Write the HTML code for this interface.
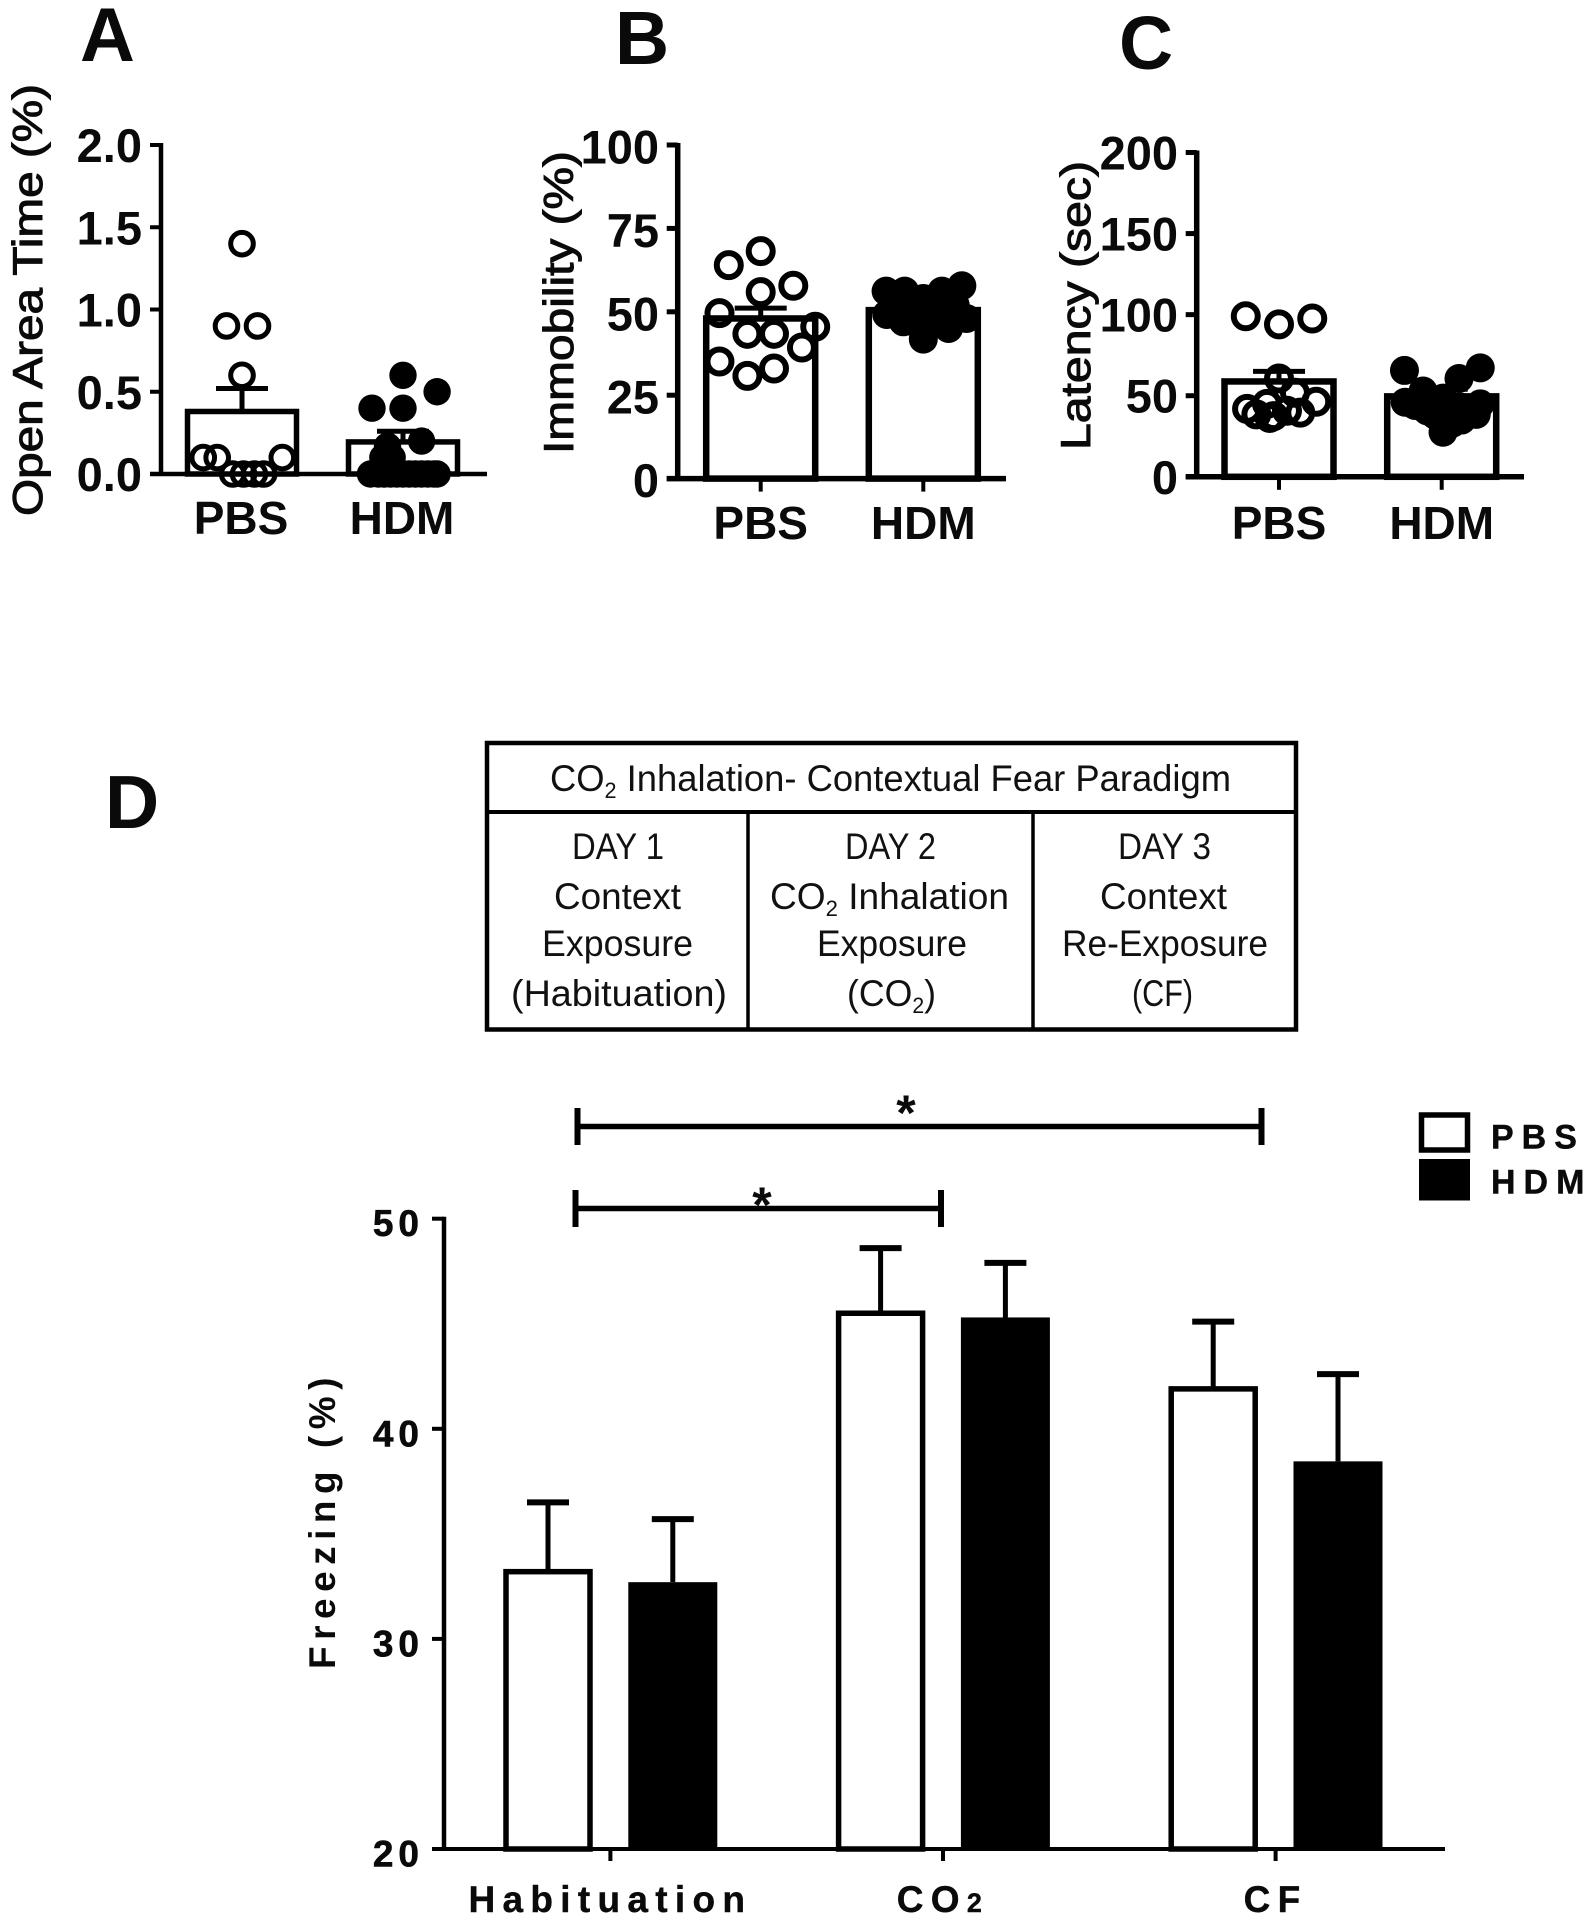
<!DOCTYPE html>
<html lang="en">
<head>
<meta charset="utf-8">
<title>Behavioral measures and CO2 contextual fear paradigm</title>
<style>
html,body{margin:0;padding:0;background:#fff;}
svg{display:block;}
text{font-family:"Liberation Sans",Arial,sans-serif;fill:#0a0a0a;}
.tt{font-size:37px;fill:#111;}
.sub{font-size:22px;}
</style>
</head>
<body>
<svg id="figure" xmlns="http://www.w3.org/2000/svg" width="1587" height="1920" viewBox="0 0 1587 1920">
<rect x="0" y="0" width="1587" height="1920" fill="#fff"/>
<g id="paradigm-table" fill="none" stroke="#000">
  <rect x="487" y="743" width="809" height="286.5" stroke-width="4.5"/>
  <line x1="487" y1="812" x2="1296" y2="812" stroke-width="4"/>
  <line x1="748" y1="812" x2="748" y2="1029" stroke-width="3.5"/>
  <line x1="1033" y1="812" x2="1033" y2="1029" stroke-width="3.5"/>
</g>
<g>
  <text class="tt" x="550" y="791" textLength="681" lengthAdjust="spacingAndGlyphs">CO<tspan class="sub" dy="7">2</tspan><tspan dy="-7"> Inhalation- Contextual Fear Paradigm</tspan></text>
  <text class="tt" x="572" y="859" textLength="92" lengthAdjust="spacingAndGlyphs">DAY 1</text>
  <text class="tt" x="554" y="909" textLength="127" lengthAdjust="spacingAndGlyphs">Context</text>
  <text class="tt" x="542" y="956" textLength="151" lengthAdjust="spacingAndGlyphs">Exposure</text>
  <text class="tt" x="511" y="1006" textLength="216" lengthAdjust="spacingAndGlyphs">(Habituation)</text>
  <text class="tt" x="845" y="859" textLength="91" lengthAdjust="spacingAndGlyphs">DAY 2</text>
  <text class="tt" x="770" y="909" textLength="239" lengthAdjust="spacingAndGlyphs">CO<tspan class="sub" dy="7">2</tspan><tspan dy="-7"> Inhalation</tspan></text>
  <text class="tt" x="817" y="956" textLength="150" lengthAdjust="spacingAndGlyphs">Exposure</text>
  <text class="tt" x="847" y="1006" textLength="89" lengthAdjust="spacingAndGlyphs">(CO<tspan class="sub" dy="7">2</tspan><tspan dy="-7">)</tspan></text>
  <text class="tt" x="1118" y="859" textLength="93" lengthAdjust="spacingAndGlyphs">DAY 3</text>
  <text class="tt" x="1100" y="909" textLength="127" lengthAdjust="spacingAndGlyphs">Context</text>
  <text class="tt" x="1062" y="956" textLength="206" lengthAdjust="spacingAndGlyphs">Re-Exposure</text>
  <text class="tt" x="1132" y="1006" textLength="61" lengthAdjust="spacingAndGlyphs">(CF)</text>
</g>
<g>
  <text x="80" y="61" font-weight="700" font-size="76">A</text>
  <text x="615" y="64" font-weight="700" font-size="75">B</text>
  <text x="1119" y="69" font-weight="700" font-size="75">C</text>
  <text x="105" y="828" font-weight="700" font-size="75">D</text>
</g>
<g id="plots"></g>
</svg>
<script>
// Panel A: open area time
const panelACategories = ['PBS', 'HDM'];
const panelAMeans = [0.38, 0.195];
const panelAErrorTops = [0.52, 0.26];
const panelATicks = [0, 0.5, 1, 1.5, 2];
const panelATickLabels = ['0.0', '0.5', '1.0', '1.5', '2.0'];
const panelAPbsValues = [1.4, 0.9, 0.9, 0.6, 0.1, 0.1, 0.1, 0, 0, 0, 0];
const panelAPbsSlots = [0, -1, 1, 0, -2.5, -1.6, 2.6, -0.6, 0.1, 0.8, 1.4];
const panelAHdmValues = [0.6, 0.5, 0.4, 0.4, 0.2, 0.17, 0.1, 0.1, 0, 0, 0, 0, 0, 0, 0, 0, 0, 0, 0, 0];
const panelAHdmSlots = [0, 2.2, -2, 0, 1.2, -1, -1.3, -0.7, -2.1, -1.6, -1.2, -0.8, -0.4, 0, 0.4, 0.8, 1.2, 1.6, 2, 2.2];

// Panel B: immobility
const panelBCategories = ['PBS', 'HDM'];
const panelBMeans = [48, 50.5];
const panelBErrorTops = [51.1, 52.5];
const panelBTicks = [0, 25, 50, 75, 100];
const panelBTickLabels = ['0', '25', '50', '75', '100'];
const panelBPbsValues = [68.2, 64, 57.8, 55.9, 49.6, 45.5, 43.4, 43.4, 39.3, 35.1, 33, 30.8];
const panelBPbsSlots = [0, -2.4, 2.45, 0, -3.1, 4.1, -1, 1, 3.1, -3.1, 1, -1];
const panelBHdmValues = [56.2, 56.2, 54, 56.2, 57.8, 49.2, 47, 41.8, 45, 48, 47, 50, 51, 53, 52, 51, 52, 47];
const panelBHdmSlots = [-2.8, -1.4, 0, 1.4, 2.9, -2.75, -1.5, 0, 1.9, 3.25, 0.9, 1.5, -1, -2, -0.5, 0.6, 2.4, -0.7];

// Panel C: latency
const panelCCategories = ['PBS', 'HDM'];
const panelCMeans = [58.8, 49.6];
const panelCErrorTops = [65, 54];
const panelCTicks = [0, 50, 100, 150, 200];
const panelCTickLabels = ['0', '50', '100', '150', '200'];
const panelCPbsValues = [99, 94, 97.6, 60.6, 51.8, 41.9, 45, 46.3, 38.5, 37.4, 40.7, 39.6, 36.3];
const panelCPbsSlots = [-2.5, 0, 2.5, 0, 1.2, -2.4, -0.9, 2.8, -1.7, -0.4, 0.6, 1.6, -0.7];
const panelCHdmValues = [65.6, 67.2, 60.6, 52.9, 46, 48.5, 45, 35, 27.5, 40.7, 38.5, 43, 44, 44, 40, 42, 33, 37, 38];
const panelCHdmSlots = [-2.8, 2.9, 1.3, -1.4, -2.75, 0.1, 2.9, 1.5, 0.1, -1.1, 2.6, 1.4, -2, -0.5, 0.6, 2, 0.8, 1, -0.5];

// Panel D: freezing
const panelDCategories = ['Habituation', 'CO2', 'CF'];
const panelDPbsMeans = [33.2, 45.5, 41.9];
const panelDPbsErrorTops = [36.5, 48.6, 45.1];
const panelDHdmMeans = [32.7, 45.3, 38.45];
const panelDHdmErrorTops = [35.7, 47.9, 42.6];
const panelDTicks = [20, 30, 40, 50];
const panelDTickLabels = ['20', '30', '40', '50'];
const panelDLegend = ['PBS', 'HDM'];

const SVGNS = 'http://www.w3.org/2000/svg';
const plots = document.getElementById('plots');

function make(parent, tag, attrs, content) {
  const el = document.createElementNS(SVGNS, tag);
  for (const k in attrs) el.setAttribute(k, attrs[k]);
  if (content !== undefined) el.textContent = content;
  parent.appendChild(el);
  return el;
}
function linearScale(d0, d1, p0, p1) {
  return function (v) { return p0 + (v - d0) * (p1 - p0) / (d1 - d0); };
}

function drawDotPanel(c) {
  const g = make(plots, 'g', {});
  
  
  const y = linearScale(c.domain[0], c.domain[1], c.bottom, c.top);
  const x = function (i) { return c.firstX + i * c.bandStep; };

  const yAxis = make(g, 'line', { x1: c.axisX, x2: c.axisX, y1: y(c.domain[1]) - 2, y2: c.bottom, stroke: '#000', 'stroke-width': c.axisWidth });
  
  
  const xAxis = make(g, 'line', { x1: c.axisX - 11, x2: c.xEnd, y1: c.bottom, y2: c.bottom, stroke: '#000', 'stroke-width': c.axisWidth });
  
  

  c.ticks.forEach(function (t, i) {
    const tick = make(g, 'line', { x1: c.axisX - 11, x2: c.axisX, y1: y(t), y2: y(t), stroke: '#000', 'stroke-width': c.axisWidth - 0.5 });
    
    
    const lab = make(g, 'text', { x: c.tickRight, y: y(t) + c.tickDy, 'text-anchor': 'end', 'font-size': 47, 'font-weight': 700 }, c.tickLabels[i]);
    
    
  });

  c.categories.forEach(function (cat, i) {
    const cx = x(i);
    const bar = make(g, 'rect', { x: cx - c.barHalf, y: y(c.means[i]), width: c.barHalf * 2, height: c.bottom - y(c.means[i]), fill: 'none', stroke: '#000', 'stroke-width': c.barStroke });
    
    
    const stem = make(g, 'line', { x1: cx, x2: cx, y1: y(c.means[i]), y2: y(c.errorTops[i]), stroke: '#000', 'stroke-width': 5 });
    
    
    const cap = make(g, 'line', { x1: cx - 26, x2: cx + 26, y1: y(c.errorTops[i]), y2: y(c.errorTops[i]), stroke: '#000', 'stroke-width': 5 });
    
    
    if (c.xTicks) {
      const xt = make(g, 'line', { x1: cx, x2: cx, y1: c.bottom, y2: c.bottom + 13, stroke: '#000', 'stroke-width': 4 });
      
      
    }
    const lab = make(g, 'text', { x: cx + c.labelDx, y: c.labelY, 'text-anchor': 'middle', 'font-size': 46, 'font-weight': 700 }, cat);
    
    
  });

  c.pbsValues.forEach(function (v, i) {
    const pt = make(g, 'circle', { cx: x(0) + c.pbsSlots[i] * c.slotStep, cy: y(v), r: c.openR, fill: 'none', stroke: '#000', 'stroke-width': c.openStroke });
    
    
  });
  c.hdmValues.forEach(function (v, i) {
    const pt = make(g, 'circle', { cx: x(1) + c.hdmSlots[i] * c.slotStep, cy: y(v), r: c.filledR, fill: '#000' });
    
    
  });

  const title = make(g, 'text', { transform: 'translate(' + c.titleX + ',' + c.titleStart + ') rotate(-90)', 'font-size': 42, 'font-weight': 400, textLength: c.titleLen, lengthAdjust: 'spacingAndGlyphs', stroke: '#0a0a0a', 'stroke-width': 1 }, c.title);
  
  
}

drawDotPanel({
  name: 'panel-a', title: 'Open Area Time (%)', titleX: 42, titleStart: 516, titleLen: 432,
  domain: [0, 2], bottom: 474, top: 145, axisX: 161, xEnd: 487, tickRight: 142, tickDy: 17,
  firstX: 242, bandStep: 161, barHalf: 54.5, slotStep: 15.5, labelDx: -1, labelY: 534, xTicks: false,
  axisWidth: 4.5, barStroke: 5.5, openR: 11.3, openStroke: 5, filledR: 13.7,
  categories: panelACategories, means: panelAMeans, errorTops: panelAErrorTops,
  ticks: panelATicks, tickLabels: panelATickLabels,
  pbsValues: panelAPbsValues, pbsSlots: panelAPbsSlots, hdmValues: panelAHdmValues, hdmSlots: panelAHdmSlots
});
drawDotPanel({
  name: 'panel-b', title: 'Immobility (%)', titleX: 573, titleStart: 454, titleLen: 303,
  domain: [0, 100], bottom: 478.6, top: 145, axisX: 677.7, xEnd: 1006, tickRight: 659, tickDy: 18.5,
  firstX: 760.7, bandStep: 162.6, barHalf: 54.5, slotStep: 13.3, labelDx: 0, labelY: 539, xTicks: true,
  axisWidth: 5.5, barStroke: 6.5, openR: 12, openStroke: 6, filledR: 14.5,
  categories: panelBCategories, means: panelBMeans, errorTops: panelBErrorTops,
  ticks: panelBTicks, tickLabels: panelBTickLabels,
  pbsValues: panelBPbsValues, pbsSlots: panelBPbsSlots, hdmValues: panelBHdmValues, hdmSlots: panelBHdmSlots
});
drawDotPanel({
  name: 'panel-c', title: 'Latency (sec)', titleX: 1090, titleStart: 450, titleLen: 289,
  domain: [0, 200], bottom: 476.8, top: 152.5, axisX: 1196.7, xEnd: 1524, tickRight: 1178, tickDy: 17,
  firstX: 1279, bandStep: 162.7, barHalf: 54.5, slotStep: 13.3, labelDx: 0, labelY: 539, xTicks: true,
  axisWidth: 5.5, barStroke: 6.5, openR: 12, openStroke: 6, filledR: 14.5,
  categories: panelCCategories, means: panelCMeans, errorTops: panelCErrorTops,
  ticks: panelCTicks, tickLabels: panelCTickLabels,
  pbsValues: panelCPbsValues, pbsSlots: panelCPbsSlots, hdmValues: panelCHdmValues, hdmSlots: panelCHdmSlots
});

(function drawPanelD() {
  const g = make(plots, 'g', {});
  
  
  const bottom = 1849, axisX = 444;
  const y = linearScale(20, 50, bottom, 1218.7);
  const xCenter = function (i) { return 610.4 + i * 332.6; };
  const groupOffset = 62.4;

  const yAxis = make(g, 'line', { x1: axisX, x2: axisX, y1: y(50) - 2, y2: bottom, stroke: '#000', 'stroke-width': 4.5 });
  
  
  const xAxis = make(g, 'line', { x1: 432, x2: 1445, y1: bottom, y2: bottom, stroke: '#000', 'stroke-width': 4 });
  
  

  panelDTicks.forEach(function (t, i) {
    const tick = make(g, 'line', { x1: 432, x2: axisX, y1: y(t), y2: y(t), stroke: '#000', 'stroke-width': 4 });
    
    
    const lab = make(g, 'text', { x: 424, y: y(t) + 17.5, 'text-anchor': 'end', 'font-size': 37, 'font-weight': 700, 'letter-spacing': 5, stroke: '#0a0a0a', 'stroke-width': 0.6 }, panelDTickLabels[i]);
    
    
  });

  panelDCategories.forEach(function (cat, i) {
    const c = xCenter(i);
    const pbsX = c - groupOffset, hdmX = c + groupOffset;
    const pbsStem = make(g, 'line', { x1: pbsX, x2: pbsX, y1: y(panelDPbsMeans[i]), y2: y(panelDPbsErrorTops[i]), stroke: '#000', 'stroke-width': 5 });
    
    
    const pbsCap = make(g, 'line', { x1: pbsX - 21, x2: pbsX + 21, y1: y(panelDPbsErrorTops[i]), y2: y(panelDPbsErrorTops[i]), stroke: '#000', 'stroke-width': 6 });
    
    
    const pbsBar = make(g, 'rect', { x: pbsX - 42, y: y(panelDPbsMeans[i]), width: 84, height: bottom - y(panelDPbsMeans[i]), fill: '#fff', stroke: '#000', 'stroke-width': 5.5 });
    
    
    const hdmStem = make(g, 'line', { x1: hdmX, x2: hdmX, y1: y(panelDHdmMeans[i]), y2: y(panelDHdmErrorTops[i]), stroke: '#000', 'stroke-width': 5 });
    
    
    const hdmCap = make(g, 'line', { x1: hdmX - 21, x2: hdmX + 21, y1: y(panelDHdmErrorTops[i]), y2: y(panelDHdmErrorTops[i]), stroke: '#000', 'stroke-width': 6 });
    
    
    const hdmBar = make(g, 'rect', { x: hdmX - 44.5, y: y(panelDHdmMeans[i]), width: 89, height: bottom - y(panelDHdmMeans[i]), fill: '#000' });
    
    
    const xt = make(g, 'line', { x1: c, x2: c, y1: bottom, y2: bottom + 12, stroke: '#000', 'stroke-width': 4 });
    
    
    const lab = make(g, 'text', { x: c, y: 1912, 'text-anchor': 'middle', 'font-size': 37, 'font-weight': 700, 'letter-spacing': 7.3, stroke: '#0a0a0a', 'stroke-width': 0.4 });
    
    
    const m = cat.match(/^(.*?)(\d)$/);
    if (m) {
      lab.appendChild(document.createTextNode(m[1]));
      make(lab, 'tspan', { 'font-size': 27 }, m[2]);
    } else {
      lab.textContent = cat;
    }
  });

  const title = make(g, 'text', { transform: 'translate(335,1669) rotate(-90)', 'font-size': 37, 'font-weight': 700, 'letter-spacing': 6.5 }, 'Freezing (%)');
  
  

  function bracket(x0, x1, yy, nm, starX, starY) {
    const b = make(g, 'g', {});
    
    
    make(b, 'text', { x: starX, y: starY, 'text-anchor': 'middle', 'font-size': 50, 'font-weight': 700 }, '*');
    make(b, 'line', { x1: x0, x2: x1, y1: yy, y2: yy, stroke: '#000', 'stroke-width': 5.5 });
    make(b, 'line', { x1: x0, x2: x0, y1: yy - 18.5, y2: yy + 18.5, stroke: '#000', 'stroke-width': 6 });
    make(b, 'line', { x1: x1, x2: x1, y1: yy - 18.5, y2: yy + 18.5, stroke: '#000', 'stroke-width': 6 });
  }
  bracket(577.5, 1261.5, 1126.5, 'significance-bracket-habituation-cf', 906, 1130);
  bracket(575.5, 941, 1208.5, 'significance-bracket-habituation-co2', 762, 1222);

  panelDLegend.forEach(function (name, i) {
    const top = 1115 + i * 44;
    const swatch = make(g, 'rect', i === 0
      ? { x: 1421.5, y: top, width: 46, height: 35, fill: '#fff', stroke: '#000', 'stroke-width': 5.5 }
      : { x: 1419, y: top, width: 51, height: 41.5, fill: '#000' });
    
    
    const lab = make(g, 'text', { x: 1491, y: 1148.5 + i * 45, 'font-size': 34, 'font-weight': 700, 'letter-spacing': 8, stroke: '#0a0a0a', 'stroke-width': 0.4 }, name);
    
    
  });
})();
</script>
</body>
</html>
